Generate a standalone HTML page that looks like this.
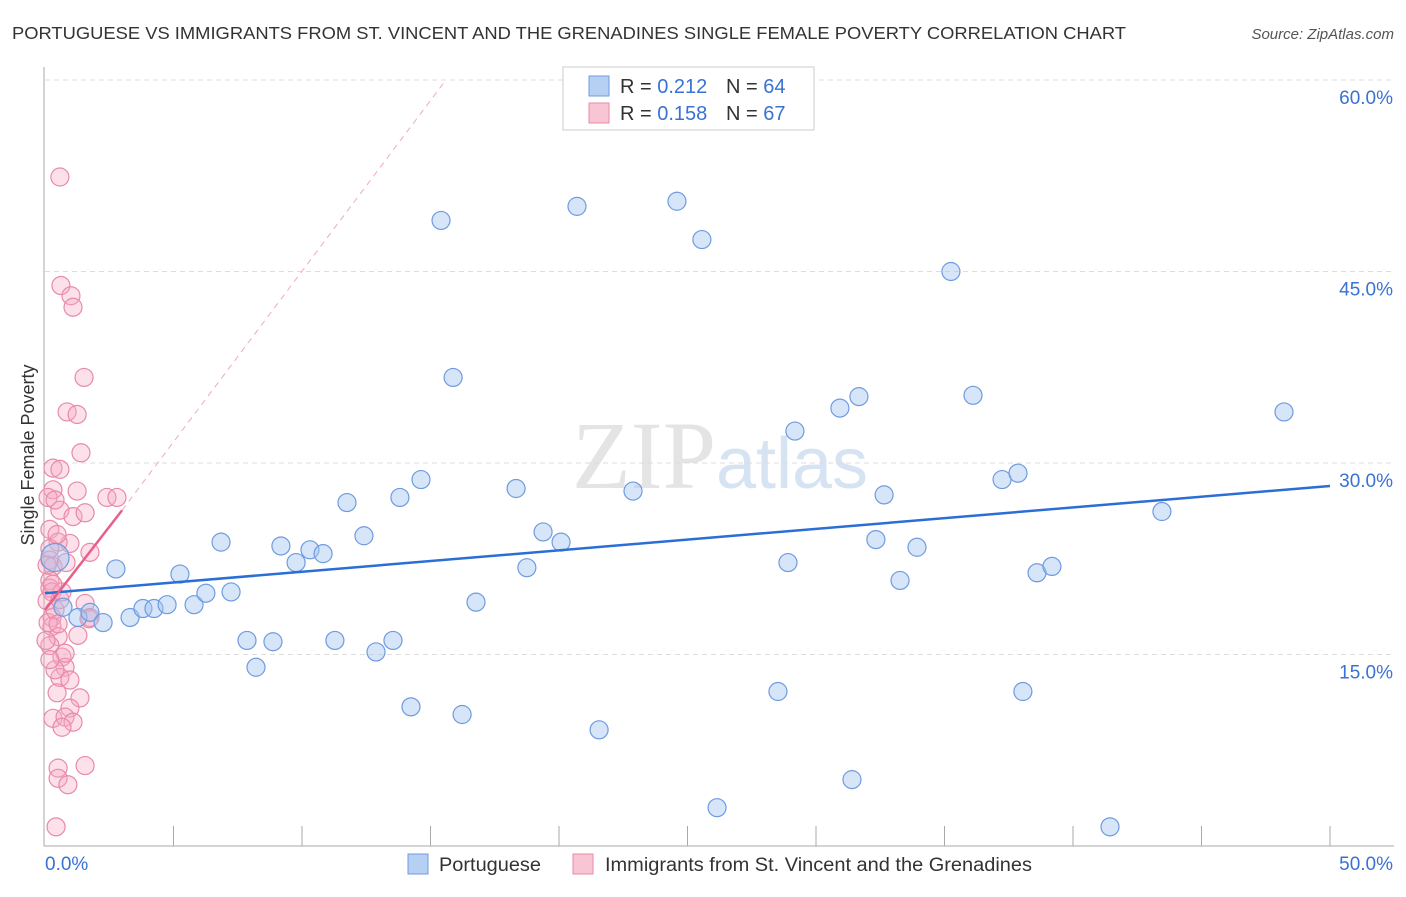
<!DOCTYPE html>
<html><head><meta charset="utf-8"><style>
body{margin:0;background:#fff;font-family:"Liberation Sans",sans-serif;}
</style></head><body>
<svg width="1406" height="892" xmlns="http://www.w3.org/2000/svg" id="chart">
<text x="12" y="39" font-size="17.5" fill="#333" textLength="1114" lengthAdjust="spacingAndGlyphs">PORTUGUESE VS IMMIGRANTS FROM ST. VINCENT AND THE GRENADINES SINGLE FEMALE POVERTY CORRELATION CHART</text>
<text x="1394" y="39" font-size="15" fill="#555" font-style="italic" text-anchor="end">Source: ZipAtlas.com</text>
<text x="720" y="488" font-size="96" fill="#e4e4e4" text-anchor="middle" font-family="Liberation Serif">ZIP<tspan fill="#d6e3f3" font-family="Liberation Sans" font-size="72">atlas</tspan></text>
<g id="grid"></g><g id="axes"></g><g id="marks"></g>
<text transform="translate(34,455) rotate(-90)" font-size="18" fill="#333" text-anchor="middle">Single Female Poverty</text>
<g>
<rect x="563" y="67" width="251" height="63" fill="#fff" stroke="#ccc"/>
<rect x="589" y="76" width="20" height="20" fill="#b5d0f3" stroke="#6f9be0"/>
<text x="620" y="93" font-size="20" fill="#333">R = <tspan fill="#3a72d4">0.212</tspan></text>
<text x="726" y="93" font-size="20" fill="#333">N = <tspan fill="#3a72d4">64</tspan></text>
<rect x="589" y="103" width="20" height="20" fill="#f8c5d4" stroke="#e88aa8"/>
<text x="620" y="120" font-size="20" fill="#333">R = <tspan fill="#3a72d4">0.158</tspan></text>
<text x="726" y="120" font-size="20" fill="#333">N = <tspan fill="#3a72d4">67</tspan></text>
</g>
<g>
<rect x="408" y="854" width="20" height="20" fill="#b5d0f3" stroke="#6f9be0"/>
<text x="439" y="871" font-size="19" fill="#333" textLength="102" lengthAdjust="spacingAndGlyphs">Portuguese</text>
<rect x="573" y="854" width="20" height="20" fill="#f8c5d4" stroke="#e88aa8"/>
<text x="605" y="871" font-size="19" fill="#333" textLength="427" lengthAdjust="spacingAndGlyphs">Immigrants from St. Vincent and the Grenadines</text>
</g>
</svg>
<script>
const yTicks=[15,30,45,60];
const yTickLabels=["15.0%","30.0%","45.0%","60.0%"];
const xTickLabels=["0.0%","50.0%"];
const blueX=[0.39,0.70,1.28,1.75,2.26,2.76,3.31,3.81,4.24,4.75,5.25,5.80,6.26,6.85,7.24,7.86,8.21,8.87,9.18,9.77,10.31,10.82,11.28,11.75,12.41,12.88,13.54,13.81,14.24,14.63,15.41,15.88,16.23,16.77,18.33,18.75,19.38,20.08,20.70,21.56,22.88,24.59,25.56,26.15,28.52,28.91,29.18,30.93,31.40,31.67,32.33,32.65,33.27,33.93,35.25,36.11,37.24,37.86,38.05,38.60,39.18,41.44,43.46,48.21];
const blueY=[22.6,18.7,17.9,18.3,17.5,21.7,17.9,18.6,18.6,18.9,21.3,18.9,19.8,23.8,19.9,16.1,14.0,16.0,23.5,22.2,23.2,22.9,16.1,26.9,24.3,15.2,16.1,27.3,10.9,28.7,49.0,36.7,10.3,19.1,28.0,21.8,24.6,23.8,50.1,9.1,27.8,50.5,47.5,3.0,12.1,22.2,32.5,34.3,5.2,35.2,24.0,27.5,20.8,23.4,45.0,35.3,28.7,29.2,12.1,21.4,21.9,1.5,26.2,34.0];
const pinkX=[0.58,0.62,1.01,1.09,1.52,0.86,1.25,1.40,0.31,0.58,0.31,1.25,2.41,2.80,0.58,1.09,1.56,0.19,0.97,0.51,1.75,0.19,0.31,0.19,0.19,0.27,1.56,1.75,1.28,0.27,0.27,0.51,0.19,0.66,0.78,0.58,0.47,1.36,0.31,0.97,0.78,1.09,0.66,0.51,0.51,1.56,0.89,0.43,0.08,0.12,0.39,0.19,0.47,0.12,0.78,0.39,0.97,0.08,0.58,0.04,0.39,0.82,0.19,0.51,1.71,0.66,0.30];
const pinkY=[52.4,43.9,43.1,42.2,36.7,34.0,33.8,30.8,29.6,29.5,27.9,27.8,27.3,27.3,26.3,25.8,26.1,24.8,23.7,23.8,23.0,22.4,21.9,20.8,20.2,19.9,19.0,17.9,16.5,17.9,17.2,16.4,15.7,14.8,14.0,13.2,12.0,11.6,10.0,10.8,10.1,9.7,9.3,6.1,5.3,6.3,4.8,1.5,19.2,17.5,18.5,23.3,24.4,27.3,15.1,13.8,13.0,22.0,19.3,16.1,27.1,22.2,14.6,17.4,17.8,19.9,20.5];
const blueTrend=[0,19.8,50,28.2];
const pinkTrend=[0,18.5,3,26.3];
const pinkDash=[3,26.3,15.6,60];
const X=v=>45+v*25.7, Y=v=>846-v*12.767;
const NS="http://www.w3.org/2000/svg";
function mk(t,a,p){const e=document.createElementNS(NS,t);for(const k in a)e.setAttribute(k,a[k]);p.appendChild(e);return e;}
const grid=document.getElementById('grid'),axes=document.getElementById('axes'),marks=document.getElementById('marks');
yTicks.forEach((t,i)=>{
 const l=mk('line',{x1:45,x2:1394,y1:Y(t),y2:Y(t),stroke:'#ddd','stroke-dasharray':'5,4'},grid);
 
 
 const tx=mk('text',{x:1393,y:Y(t)+24,'font-size':19,fill:'#3a72d4','text-anchor':'end'},axes);tx.textContent=yTickLabels[i];
 
 
});
mk('line',{x1:44,x2:44,y1:67,y2:846,stroke:'#aaa'},axes);
mk('line',{x1:44,x2:1394,y1:846,y2:846,stroke:'#aaa'},axes);
for(let v=5;v<=50;v+=5){const t=mk('line',{x1:X(v),x2:X(v),y1:826,y2:846,stroke:'#aaa'},axes);
 
 }
const xl0=mk('text',{x:45,y:870,'font-size':19,fill:'#3a72d4'},axes);xl0.textContent=xTickLabels[0];


const xl1=mk('text',{x:1393,y:870,'font-size':19,fill:'#3a72d4','text-anchor':'end'},axes);xl1.textContent=xTickLabels[1];


pinkX.forEach((x,i)=>{const c=mk('circle',{cx:X(x),cy:Y(pinkY[i]),r:9,fill:'rgba(245,170,195,0.35)',stroke:'#e88aa8','stroke-width':1.2},marks);
 
 });
blueX.forEach((x,i)=>{const c=mk('circle',{cx:X(x),cy:Y(blueY[i]),r:i==0?14:9,fill:'rgba(165,198,240,0.45)',stroke:'#6f9be0','stroke-width':1.2},marks);
 
 });
const bt=mk('line',{x1:X(blueTrend[0]),y1:Y(blueTrend[1]),x2:X(blueTrend[2]),y2:Y(blueTrend[3]),stroke:'#2a6fd6','stroke-width':2.5},marks);


const pd=mk('line',{x1:X(pinkDash[0]),y1:Y(pinkDash[1]),x2:X(pinkDash[2]),y2:Y(pinkDash[3]),stroke:'#eeaabd','stroke-width':1,'stroke-dasharray':'6,5'},marks);


const pt=mk('line',{x1:X(pinkTrend[0]),y1:Y(pinkTrend[1]),x2:X(pinkTrend[2]),y2:Y(pinkTrend[3]),stroke:'#e8608a','stroke-width':2.5},marks);


</script>
</body></html>
